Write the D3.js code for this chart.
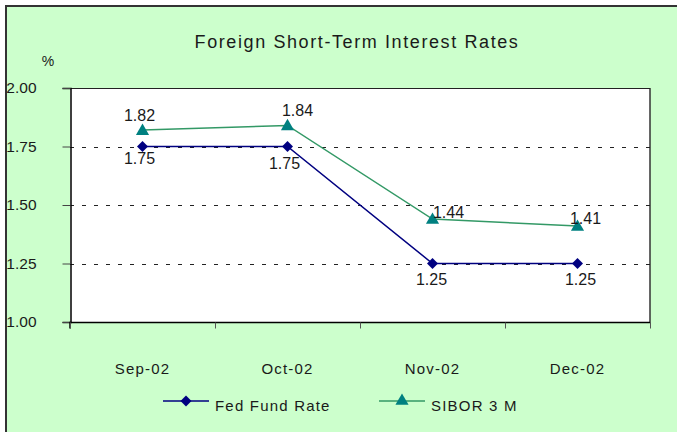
<!DOCTYPE html>
<html>
<head>
<meta charset="utf-8">
<script src="https://cdn.jsdelivr.net/npm/d3@7/dist/d3.min.js"></script>
<style>
  html, body { margin: 0; padding: 0; background: #ffffff; }
  svg { display: block; }
  text { font-family: "Liberation Sans", Arial, sans-serif; fill: #1a1a1a; }
</style>
</head>
<body>
<svg id="chart" width="677" height="432"></svg>
<script>
// ---- data ----
const categories = ["Sep-02", "Oct-02", "Nov-02", "Dec-02"];
const fedFundRate = [1.75, 1.75, 1.25, 1.25];
const sibor3M = [1.82, 1.84, 1.44, 1.41];
const yTicks = [1.00, 1.25, 1.50, 1.75, 2.00];
const seriesNames = ["Fed Fund Rate", "SIBOR 3 M"];
const title = "Foreign Short-Term Interest Rates";
const unitLabel = "%";

// ---- layout ----
const W = 677, H = 432;
const plot = { left: 70, right: 650, top: 88, bottom: 322 };
const fedColor = "#000080", sibLine = "#339966", sibMarker = "#008080";

const svg = d3.select("#chart");

// background + frame
svg.append("rect").attr("x", 5).attr("y", 5).attr("width", W - 5).attr("height", H - 5).attr("fill", "#ccffcc");
svg.append("line").attr("x1", 5).attr("x2", W).attr("y1", 6).attr("y2", 6).attr("stroke", "#333").attr("stroke-width", 2);
svg.append("line").attr("x1", 6).attr("x2", 6).attr("y1", 5).attr("y2", H).attr("stroke", "#333").attr("stroke-width", 2);

// plot area
svg.append("rect").attr("x", plot.left).attr("y", plot.top)
  .attr("width", plot.right - plot.left).attr("height", plot.bottom - plot.top)
  .attr("fill", "#ffffff");
svg.append("line").attr("x1", plot.right).attr("x2", plot.right).attr("y1", plot.top).attr("y2", plot.bottom + 1)
  .attr("stroke", "#333").attr("stroke-width", 1.5);

const x = d3.scaleBand().domain(categories).range([plot.left, plot.right]).padding(0);
const y = d3.scaleLinear().domain([1, 2]).range([plot.bottom, plot.top]);
const cx = d => x(d) + x.bandwidth() / 2;

// gridlines
svg.append("g").selectAll("line").data(yTicks.filter(t => t > 1))
  .join("line")
  .attr("x1", plot.left).attr("x2", plot.right)
  .attr("y1", d => Math.round(y(d)) + 0.5).attr("y2", d => Math.round(y(d)) + 0.5)
  .attr("stroke", "#222").attr("stroke-width", 1)
  .attr("stroke-dasharray", d => d === 2 ? null : "4,8");

// y axis
const yAxis = d3.axisLeft(y).tickValues(yTicks).tickFormat(d3.format(".2f")).tickSize(8).tickPadding(26);
const gy = svg.append("g").attr("transform", `translate(${plot.left + 0.5},0)`).call(yAxis);
gy.select(".domain").attr("stroke", "#000").attr("stroke-width", 1.5);
gy.selectAll(".tick line").attr("stroke", "#444");
gy.selectAll(".tick text").attr("font-size", 15.5).attr("font-family", "Liberation Sans, Arial, sans-serif").attr("fill", "#1a1a1a");

// x axis
const xAxis = d3.axisBottom(x).tickSize(6).tickPadding(0).tickFormat(() => "");
const gx = svg.append("g").attr("transform", `translate(0,${plot.bottom + 0.5})`).call(xAxis);
gx.select(".domain").attr("stroke", "#000").attr("stroke-width", 1.5).attr("d", `M${plot.left},6V0H${plot.right}`);
gx.selectAll(".tick").remove();
// category boundary ticks
const bounds = categories.map(c => x(c)).concat([plot.right]);
gx.selectAll("line.bt").data(bounds).join("line").attr("class", "bt")
  .attr("x1", d => d + 0.5).attr("x2", d => d + 0.5).attr("y1", 0).attr("y2", 6).attr("stroke", "#555");
// category labels
svg.append("g").selectAll("text").data(categories).join("text")
  .attr("x", d => cx(d)).attr("y", 374).attr("text-anchor", "middle")
  .attr("font-size", 15).style("letter-spacing", "1.2px").text(d => d);

// title + unit
svg.append("text").attr("x", 357).attr("y", 48).attr("text-anchor", "middle")
  .attr("font-size", 18).style("letter-spacing", "1.6px").text(title);
svg.append("text").attr("x", 48).attr("y", 66).attr("text-anchor", "middle")
  .attr("font-size", 14).text(unitLabel);

// lines
const line = d3.line().x((d, i) => cx(categories[i])).y(d => y(d));
svg.append("path").datum(sibor3M).attr("d", line).attr("fill", "none").attr("stroke", sibLine).attr("stroke-width", 1.5);
svg.append("path").datum(fedFundRate).attr("d", line).attr("fill", "none").attr("stroke", fedColor).attr("stroke-width", 1.5);

const tri = d3.symbol().type(d3.symbolTriangle).size(75)();
const dia = d3.symbol().type(d3.symbolSquare).size(60)();

svg.append("g").selectAll("path").data(sibor3M).join("path")
  .attr("d", tri).attr("fill", sibMarker)
  .attr("transform", (d, i) => `translate(${cx(categories[i])},${y(d) + 1})`);
svg.append("g").selectAll("path").data(fedFundRate).join("path")
  .attr("d", dia).attr("fill", fedColor)
  .attr("transform", (d, i) => `translate(${cx(categories[i])},${y(d)}) rotate(45)`);

// value labels (offsets relative to points)
const sibOff = [[-3, -9], [10, -9], [16, -1], [8, -2]];
const fedOff = [[-3, 17], [-3, 22], [-1, 21], [3, 21]];
svg.append("g").selectAll("text").data(sibor3M).join("text")
  .attr("x", (d, i) => cx(categories[i]) + sibOff[i][0]).attr("y", (d, i) => y(d) + sibOff[i][1])
  .attr("text-anchor", "middle").attr("font-size", 16).attr("fill", "#333").text(d => d.toFixed(2));
svg.append("g").selectAll("text").data(fedFundRate).join("text")
  .attr("x", (d, i) => cx(categories[i]) + fedOff[i][0]).attr("y", (d, i) => y(d) + fedOff[i][1])
  .attr("text-anchor", "middle").attr("font-size", 16).attr("fill", "#333").text(d => d.toFixed(2));

// legend
const legend = svg.append("g");
const legItems = [
  { name: seriesNames[0], x0: 163, color: fedColor, marker: "diamond" },
  { name: seriesNames[1], x0: 379, color: sibLine, marker: "tri" }
];
legItems.forEach(it => {
  const g = legend.append("g");
  g.append("line").attr("x1", it.x0).attr("x2", it.x0 + 46).attr("y1", 401).attr("y2", 401)
    .attr("stroke", it.color).attr("stroke-width", 1.5);
  if (it.marker === "diamond") {
    g.append("path").attr("d", dia).attr("fill", fedColor)
      .attr("transform", `translate(${it.x0 + 23},401) rotate(45)`);
  } else {
    g.append("path").attr("d", tri).attr("fill", sibMarker).attr("transform", `translate(${it.x0 + 23},401)`);
  }
  g.append("text").attr("x", it.x0 + 52).attr("y", 411).attr("font-size", 15)
    .style("letter-spacing", "1.2px").text(it.name);
});
</script>
</body>
</html>
